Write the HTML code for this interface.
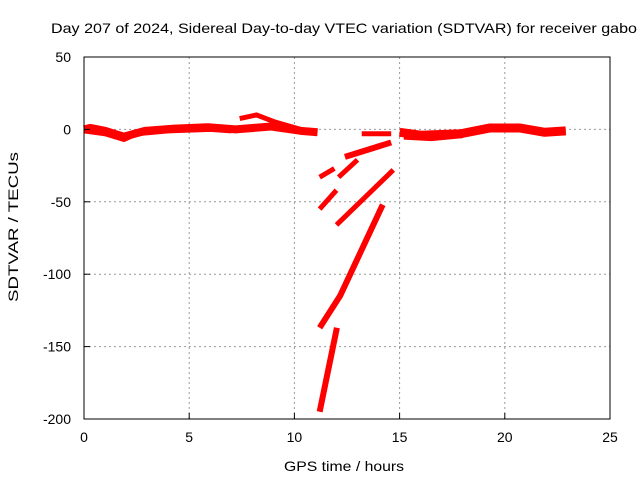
<!DOCTYPE html>
<html><head><meta charset="utf-8"><style>
body{margin:0;background:#fff;}
svg{display:block;font-family:"Liberation Sans",sans-serif;}
</style></head><body>
<svg id="chart" width="640" height="480" xmlns="http://www.w3.org/2000/svg">
<text x="51" y="33" font-size="14" textLength="586" lengthAdjust="spacingAndGlyphs" fill="#000">Day 207 of 2024, Sidereal Day-to-day VTEC variation (SDTVAR) for receiver gabo</text>
<g id="grid"></g>
<g id="series"></g>
<rect x="84" y="57" width="526" height="362" fill="none" stroke="#000" stroke-width="1"/>
<g id="ticks"></g>
<text x="344" y="471" font-size="14" textLength="120" lengthAdjust="spacingAndGlyphs" text-anchor="middle">GPS time / hours</text>
<text transform="translate(18,227) rotate(-90)" font-size="14" textLength="150" lengthAdjust="spacingAndGlyphs" text-anchor="middle">SDTVAR / TECUs</text>
</svg>
<script>
const xTicks=[0,5,10,15,20,25];
const yTicks=[50,0,-50,-100,-150,-200];
// segments: hours and values
const segHours=[
 [0,0.3,1,1.9,2.9,4.3,5.9,7.2,8.9,10.3,11.1],
 [0,1,1.9,2.5,4,6,7],
 [7.4,8.2,9.1,10.3],
 [15.0,16.0,17.9,19.3,20.7,21.9,22.9],
 [15.2,16.5,18.0],
 [11.2,12.02],
 [11.2,12.17,14.2],
 [12.0,14.7],
 [11.2,12.0],
 [11.2,11.9],
 [12.1,13.0],
 [12.4,14.6],
 [13.2,14.6]
];
const segValues=[
 [0,1,-1,-5,-1,0.5,1.5,0,2,-1,-2],
 [-1,-3,-7,-3,-1,0,-1],
 [7.5,10,5,0],
 [-2,-4,-3,1,1,-2,-1],
 [-5,-6,-4],
 [-195,-137],
 [-137,-115,-52],
 [-66,-28],
 [-55,-42],
 [-33,-27],
 [-33,-21],
 [-19,-9],
 [-3,-3]
];
const segWidth=[8,5,5,9,6,6,6,5,5,5,5,6,5];
const NS="http://www.w3.org/2000/svg";
const X=h=>84+h*526/25;
const Y=v=>57+(50-v)*362/250;
const grid=document.getElementById('grid'),ticks=document.getElementById('ticks'),ser=document.getElementById('series');
function mk(t,a,p){const e=document.createElementNS(NS,t);for(const k in a)e.setAttribute(k,a[k]);p.appendChild(e);return e;}
xTicks.forEach(t=>{
 if(t>0&&t<25){const g=mk('line',{x1:X(t),x2:X(t),y1:57,y2:419,stroke:'#999','stroke-dasharray':'2,3'},grid);
 
 }
 const l=mk('line',{x1:X(t),x2:X(t),y1:419,y2:413,stroke:'#000'},ticks);
 
 
 const tx=mk('text',{x:X(t),y:442,'font-size':14,'text-anchor':'middle'},ticks);tx.textContent=t;
 
 
});
yTicks.forEach(t=>{
 if(t<50&&t>-200){const g=mk('line',{x1:84,x2:610,y1:Y(t),y2:Y(t),stroke:'#999','stroke-dasharray':'2,3'},grid);
 
 }
 const l=mk('line',{x1:84,x2:90,y1:Y(t),y2:Y(t),stroke:'#000'},ticks);
 
 
 const tx=mk('text',{x:71,y:Y(t)+5,'font-size':14,'text-anchor':'end'},ticks);tx.textContent=t;
 
 
});
segHours.forEach((hs,i)=>{
 const pts=hs.map((h,j)=>X(h)+','+Y(segValues[i][j])).join(' ');
 const p=mk('polyline',{points:pts,fill:'none',stroke:'#f00','stroke-width':segWidth[i],'stroke-linejoin':'round'},ser);
 
 
});
</script>
</body></html>
